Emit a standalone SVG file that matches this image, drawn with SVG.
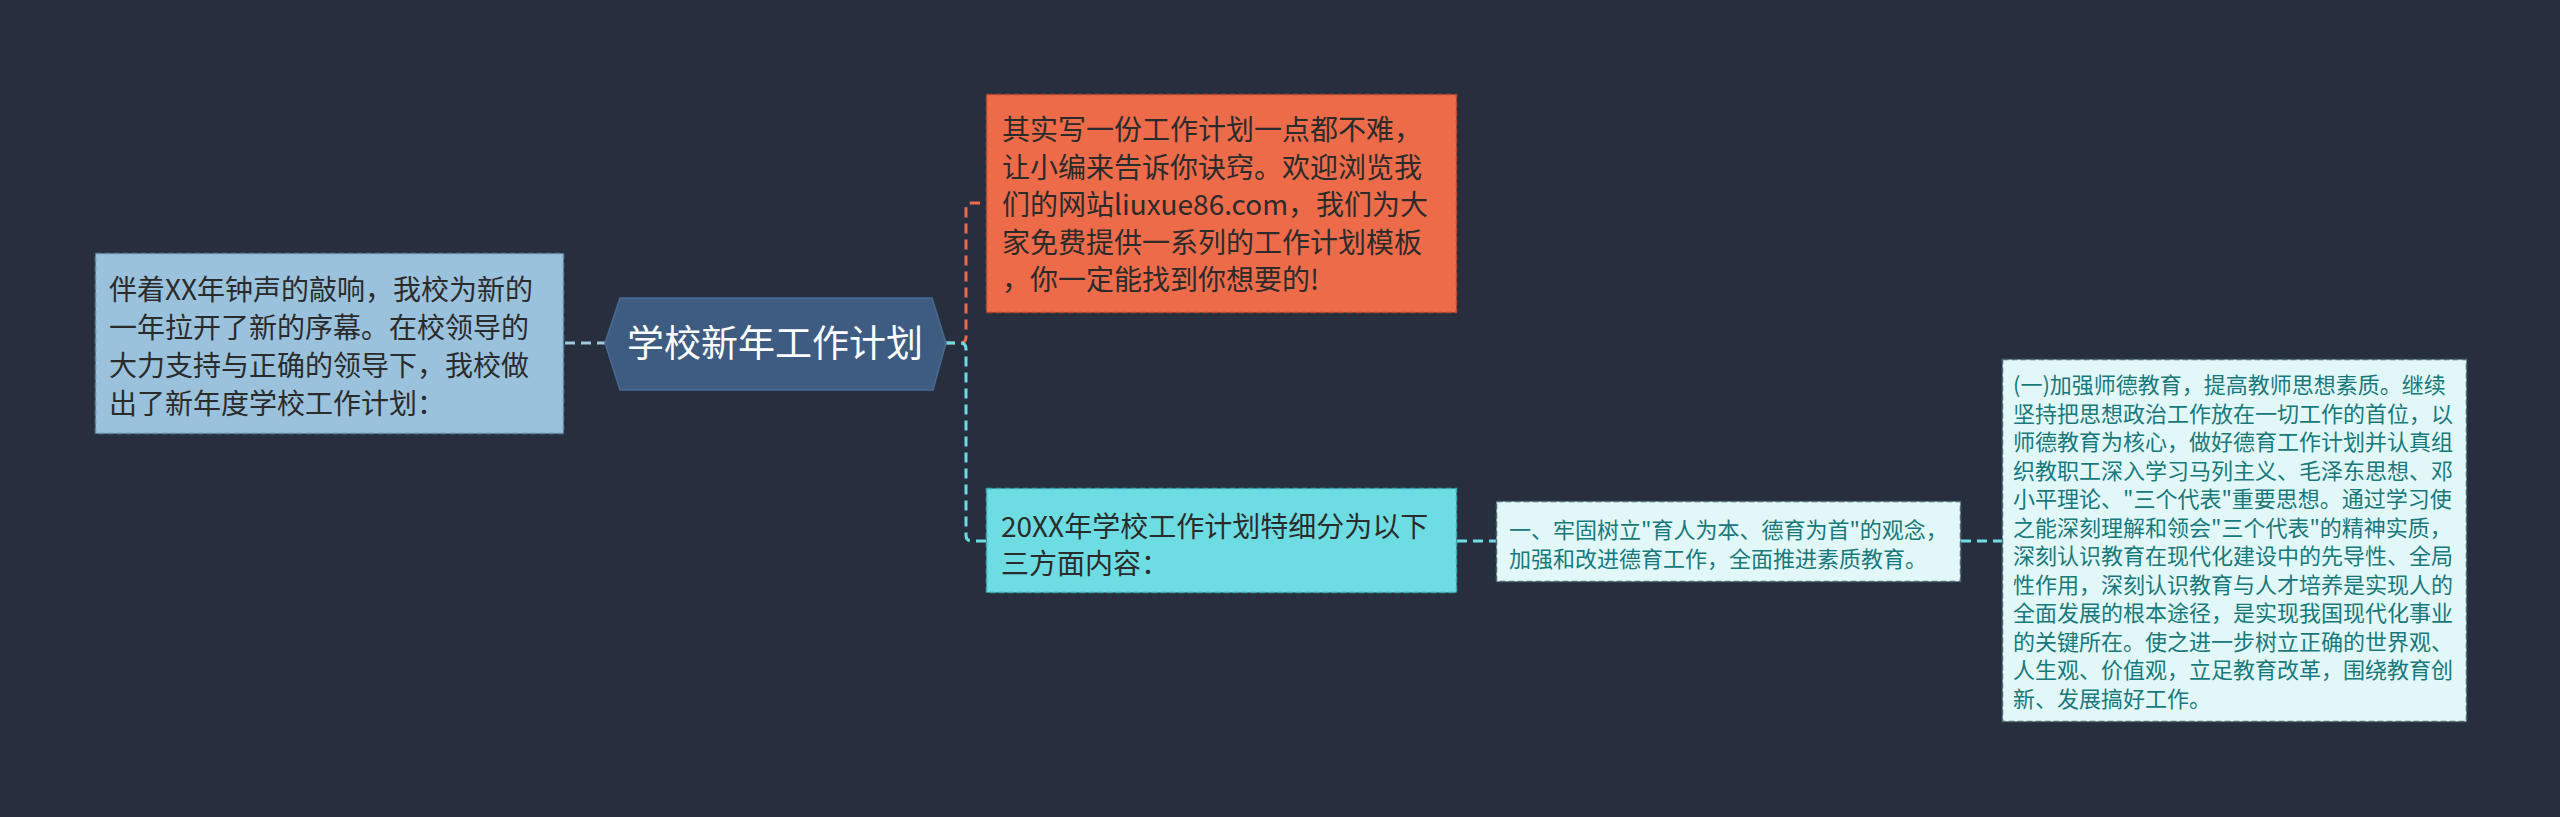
<svg xmlns="http://www.w3.org/2000/svg" width="2560" height="817" viewBox="0 0 2560 817">
<style>
text{font-family:"Noto Sans CJK SC","Liberation Sans",sans-serif;}
.t28{font-size:28px;fill:#2b2b2b;}
.t22{font-size:22px;fill:#17797c;}
.box{stroke-width:1.5;stroke-dasharray:6 3;}
.conn{fill:none;stroke-width:3;stroke-dasharray:10 6;}
</style>
<rect x="0" y="0" width="2560" height="817" fill="#272f3e"/>
<g id="connectors">
<path class="conn" d="M565,343 H605" stroke="#a2c9e0"/>
<path class="conn" d="M945,343 H960 Q966,343 966,337 V209 Q966,203 972,203 H986" stroke="#ee6b4a"/>
<path class="conn" d="M945,343 H960 Q966,343 966,349 V535 Q966,541 972,541 H986" stroke="#6ddde3"/>
<path class="conn" d="M1457,541 H1496" stroke="#6ddde3"/>
<path class="conn" d="M1961,541 H2002" stroke="#6ddde3"/>
</g>
<g id="node-left">
<rect class="box" x="95.5" y="253.5" width="468" height="180" fill="#9ac2dc" stroke="#5f87a3"/>
<text class="t28" x="109" y="300">伴着XX年钟声的敲响，我校为新的</text>
<text class="t28" x="109" y="338">一年拉开了新的序幕。在校领导的</text>
<text class="t28" x="109" y="376">大力支持与正确的领导下，我校做</text>
<text class="t28" x="109" y="414">出了新年度学校工作计划：</text>
</g>
<g id="node-root">
<polygon points="605,343 620,298 932,298 946,343 933,390 620,390" fill="#3e5c82" stroke="#4a6a92" stroke-width="1.5"/>
<text x="775" y="357" text-anchor="middle" font-size="37" fill="#ffffff">学校新年工作计划</text>
</g>
<g id="node-orange">
<rect class="box" x="986.5" y="94.5" width="470" height="218" fill="#ee6b4a" stroke="#b8482b"/>
<text class="t28" x="1002" y="140">其实写一份工作计划一点都不难，</text>
<text class="t28" x="1002" y="178">让小编来告诉你诀窍。欢迎浏览我</text>
<text class="t28" x="1002" y="215">们的网站liuxue86.com，我们为大</text>
<text class="t28" x="1002" y="253">家免费提供一系列的工作计划模板</text>
<text class="t28" x="1002" y="290">，你一定能找到你想要的!</text>
</g>
<g id="node-cyan">
<rect class="box" x="986.5" y="488.5" width="470" height="104" fill="#6ddde3" stroke="#3aaab2"/>
<text class="t28" x="1001" y="537">20XX年学校工作计划特细分为以下</text>
<text class="t28" x="1001" y="574">三方面内容：</text>
</g>
<g id="node-mid">
<rect class="box" x="1496.5" y="501.5" width="464" height="80" fill="#e2f7f7" stroke="#4f6b72"/>
<text class="t22" x="1509" y="538">一、牢固树立"育人为本、德育为首"的观念，</text>
<text class="t22" x="1509" y="567">加强和改进德育工作，全面推进素质教育。</text>
</g>
<g id="node-right">
<rect class="box" x="2002.5" y="359.5" width="464" height="362" fill="#e2f7f7" stroke="#4f6b72"/>
<text class="t22" x="2013" y="393">(一)加强师德教育，提高教师思想素质。继续</text>
<text class="t22" x="2013" y="421.5">坚持把思想政治工作放在一切工作的首位，以</text>
<text class="t22" x="2013" y="450">师德教育为核心，做好德育工作计划并认真组</text>
<text class="t22" x="2013" y="478.5">织教职工深入学习马列主义、毛泽东思想、邓</text>
<text class="t22" x="2013" y="507">小平理论、"三个代表"重要思想。通过学习使</text>
<text class="t22" x="2013" y="535.5">之能深刻理解和领会"三个代表"的精神实质，</text>
<text class="t22" x="2013" y="564">深刻认识教育在现代化建设中的先导性、全局</text>
<text class="t22" x="2013" y="592.5">性作用，深刻认识教育与人才培养是实现人的</text>
<text class="t22" x="2013" y="621">全面发展的根本途径，是实现我国现代化事业</text>
<text class="t22" x="2013" y="649.5">的关键所在。使之进一步树立正确的世界观、</text>
<text class="t22" x="2013" y="678">人生观、价值观，立足教育改革，围绕教育创</text>
<text class="t22" x="2013" y="706.5">新、发展搞好工作。</text>
</g>
</svg>
